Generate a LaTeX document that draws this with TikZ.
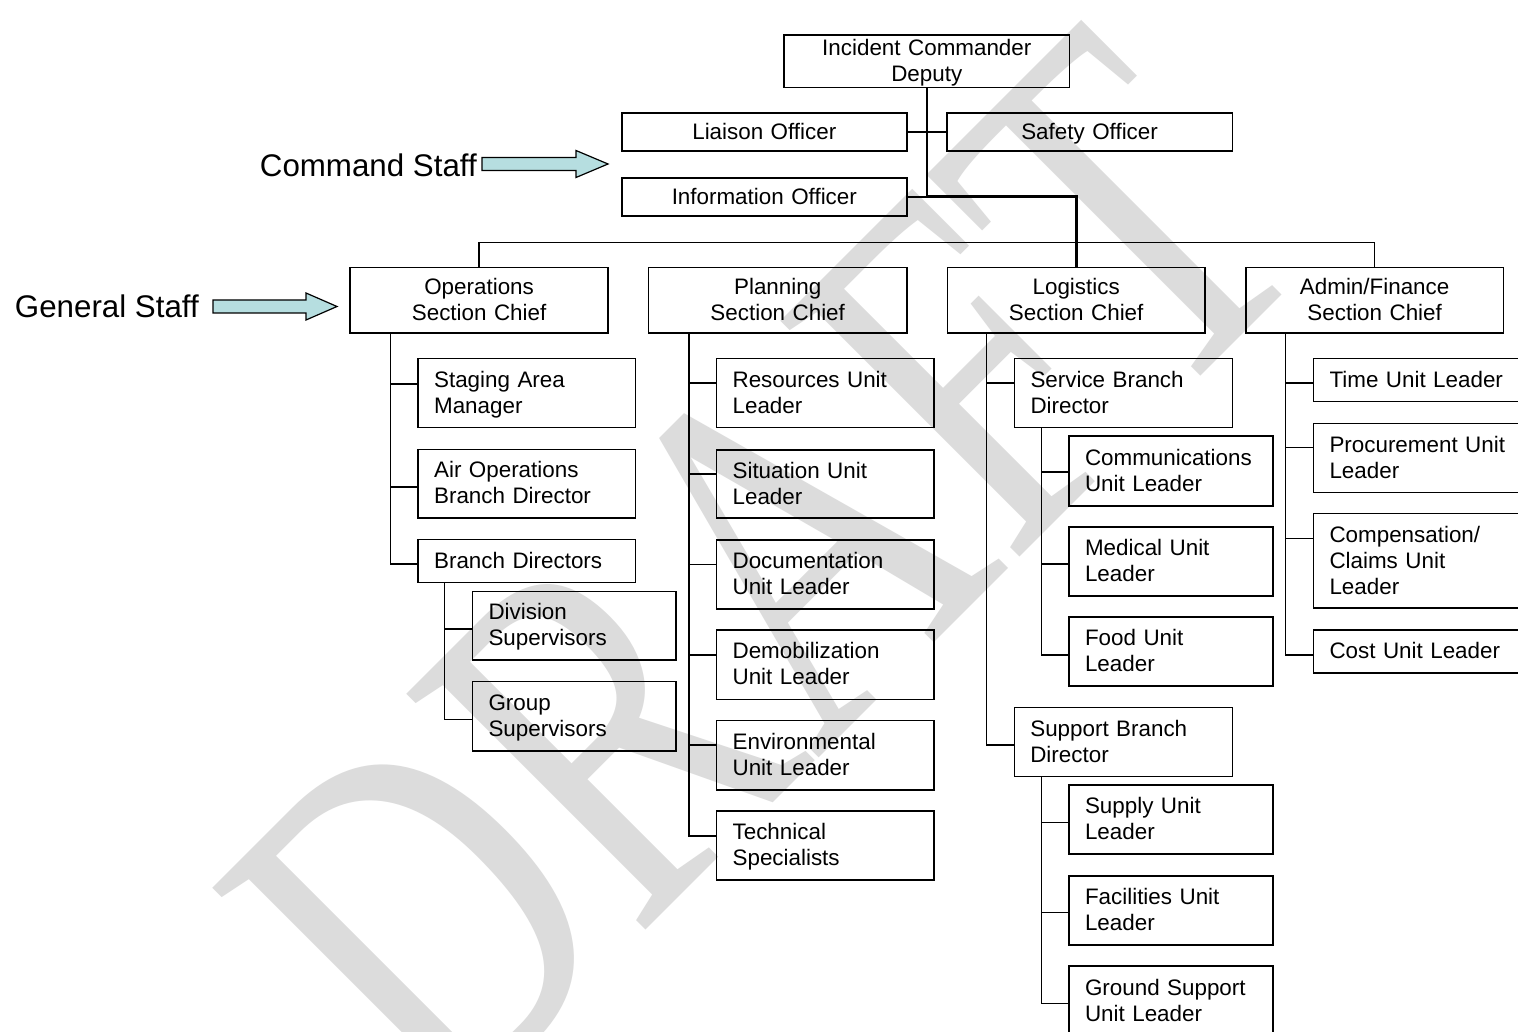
\documentclass[tikz,border=0pt]{standalone}
\usepackage{fontspec}
\setmainfont{Liberation Sans}
\newfontfamily\wmfont{Liberation Serif}
\usetikzlibrary{calc}
\definecolor{arrowfill}{RGB}{182,222,224}
\definecolor{wmgray}{RGB}{220,220,220}
\newcommand\boxfont{\fontsize{22.4}{26}\selectfont}
% invisible strut giving every text line the same ascent and descent
\newcommand\linestrut{\rule[-5.7pt]{0pt}{26pt}}
% one organisation box: name, alignment, left, top, right, bottom, text
\newcommand\orgbox[7]{%
  \pgfmathsetmacro\bxw{#5-#3-32}%
  \pgfmathsetmacro\bxh{#6-#4}%
  \node[box, align=#2, text width=\bxw pt, minimum height=\bxh pt,
        anchor=north west] (#1) at (#3,#4) {\linestrut#7\linestrut};}
\begin{document}
\begin{tikzpicture}[x=1pt,y=-1pt,
  box/.style={draw, line width=1.6pt, inner ysep=0pt, inner xsep=16pt, font=\boxfont},
  conn/.style={line width=1.5pt},
  trunk/.style={line width=3pt},
  staffarrow/.style={draw, line width=1.2pt, fill=arrowfill, line join=miter},
  stafflabel/.style={font=\fontsize{31.3}{36}\selectfont, inner sep=0pt}]
\useasboundingbox (0,0) rectangle (1518,1032);
\fill[white] (0,0) rectangle (1518,1032);

% watermark
\node[text=wmgray, font=\wmfont\fontsize{380}{380}\selectfont, inner sep=0pt,
      rotate=45, yscale=1.35] (wm) at (764,574) {DRAFT};

% command level
\orgbox{ic}{center}{783.3}{34.3}{1068.7}{86.7}{Incident Commander\\Deputy}
\orgbox{lia}{center}{621}{112.3}{906}{150.5}{Liaison Officer}
\orgbox{saf}{center}{946}{112.3}{1231.5}{150.5}{Safety Officer}
\orgbox{info}{center}{621}{177.3}{906}{215}{Information Officer}

% sections
\orgbox{ops}{center}{349.3}{266.8}{607.3}{332}{Operations\\Section Chief}
\orgbox{pln}{center}{647.5}{266.8}{906.3}{332}{Planning\\Section Chief}
\orgbox{log}{center}{946.5}{266.8}{1204.3}{332}{Logistics\\Section Chief}
\orgbox{adm}{center}{1245}{266.8}{1502.7}{332}{Admin/Finance\\Section Chief}

% operations
\orgbox{stg}{left}{417.3}{357.5}{634.7}{426.8}{Staging Area\\Manager}
\orgbox{air}{left}{417.3}{448.5}{634.7}{517}{Air Operations\\Branch Director}
\orgbox{bd}{left}{417.3}{538.7}{634.7}{581.5}{Branch Directors}
\orgbox{div}{left}{471.7}{590.5}{675}{659.2}{Division\\Supervisors}
\orgbox{grp}{left}{471.7}{680.8}{675}{750}{Group\\Supervisors}

% planning
\orgbox{res}{left}{715.8}{357.7}{933}{426.5}{Resources Unit\\Leader}
\orgbox{sit}{left}{715.8}{449}{933}{517}{Situation Unit\\Leader}
\orgbox{doc}{left}{715.8}{539}{933}{608}{Documentation\\Unit Leader}
\orgbox{dem}{left}{715.8}{629}{933}{698.5}{Demobilization\\Unit Leader}
\orgbox{env}{left}{715.8}{719.5}{933}{789}{Environmental\\Unit Leader}
\orgbox{tec}{left}{715.8}{810}{933}{879}{Technical\\Specialists}

% logistics
\orgbox{svc}{left}{1013.7}{357.7}{1231.7}{426.7}{Service Branch\\Director}
\orgbox{com}{left}{1068.2}{435}{1272.3}{505}{Communications\\Unit Leader}
\orgbox{med}{left}{1068.2}{526}{1272.3}{595}{Medical Unit\\Leader}
\orgbox{food}{left}{1068.2}{616}{1272.3}{685}{Food Unit\\Leader}
\orgbox{sup}{left}{1013.5}{706.7}{1231.7}{775.5}{Support Branch\\Director}
\orgbox{sply}{left}{1068.2}{784.3}{1272.3}{853.3}{Supply Unit\\Leader}
\orgbox{fac}{left}{1068.2}{875}{1272.3}{944}{Facilities Unit\\Leader}
\orgbox{gnd}{left}{1068.2}{965}{1272.3}{1035}{Ground Support\\Unit Leader}

% admin / finance
\orgbox{time}{left}{1312.7}{357.7}{1521}{400.7}{Time~Unit~Leader}
\orgbox{proc}{left}{1312.7}{422.7}{1521}{491.7}{Procurement~Unit\\Leader}
\orgbox{comp}{left}{1312.7}{512.7}{1521}{607.3}{Compensation/\\Claims Unit\\Leader}
\orgbox{cost}{left}{1312.7}{629}{1521}{672.3}{Cost~Unit~Leader}

% command staff links
\coordinate (hub) at (ic.south |- info.east);
\draw[conn] (ic.south) -- (hub);
\draw[conn] (lia.east) -- (saf.west);
\draw[conn] (info.east) -- (hub);
\draw[trunk] (hub) -| (log.north);

% general staff bus
\draw[conn] (ops.north) -- ++(0,-24.2) -| (adm.north);

% operations
\foreach \c/\d in {stg/26.5, air/38.5, bd/25.5}
  \draw[conn] ($(ops.south west)+(41.4,0)$) |- ($(\c.north west)+(0,\d)$);
\foreach \c/\d in {div/38.5, grp/38.7}
  \draw[conn] ($(bd.south west)+(27.2,0)$) |- ($(\c.north west)+(0,\d)$);

% planning
\foreach \c/\d in {res/25.3, sit/25, doc/25.4, dem/26, env/25.5, tec/26}
  \draw[conn] ($(pln.south west)+(41.5,0)$) |- ($(\c.north west)+(0,\d)$);

% logistics
\foreach \c/\d in {svc/25.3, sup/38.3}
  \draw[conn] ($(log.south west)+(40.2,0)$) |- ($(\c.north west)+(0,\d)$);
\foreach \c/\d in {com/37, med/38, food/39}
  \draw[conn] ($(svc.south west)+(27.8,0)$) |- ($(\c.north west)+(0,\d)$);
\foreach \c/\d in {sply/38, fac/37.7, gnd/38.3}
  \draw[conn] ($(sup.south west)+(28.2,0)$) |- ($(\c.north west)+(0,\d)$);

% admin / finance
\foreach \c/\d in {time/25.3, proc/25, comp/25.6, cost/26}
  \draw[conn] ($(adm.south west)+(40.3,0)$) |- ($(\c.north west)+(0,\d)$);

% staff labels with their block arrows
\node[stafflabel, anchor=east] (cs) at (477,165) {Command Staff};
\node[stafflabel, anchor=east] (gs) at (199,306.5) {General Staff};
\draw[staffarrow] (482,157.5) -- (576,157.5) -- (576,150.5) -- (608,164)
  -- (576,177.5) -- (576,170.5) -- (482,170.5) -- cycle;
\draw[staffarrow] (213,300) -- (306,300) -- (306,293) -- (337,306.5)
  -- (306,320) -- (306,313) -- (213,313) -- cycle;
\end{tikzpicture}
\end{document}
